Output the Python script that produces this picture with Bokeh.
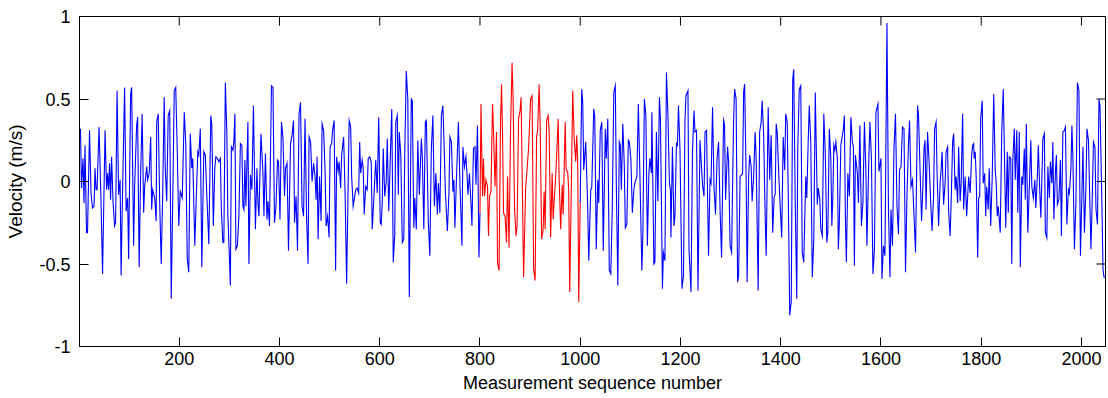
import math
from bokeh.plotting import figure
from bokeh.models import FixedTicker, Range1d, Label, ColumnDataSource
from bokeh.embed import file_html
from bokeh.resources import INLINE

# ---------------- data ----------------
seq = [
    3, 5, 8, 10, 12, 15, 17, 21, 24, 27, 30, 32, 34, 36, 40, 44, 47, 52, 55, 57,
    59, 61, 63, 65, 68, 71, 73, 76, 79, 82, 84, 87, 91, 94, 97, 99, 103, 105, 109, 111,
    115, 117, 120, 123, 126, 129, 131, 135, 137, 140, 143, 145, 147, 151, 154, 155, 158, 161, 164, 167,
    170, 172, 175, 178, 181, 184, 188, 190, 193, 196, 199, 202, 206, 210, 213, 216, 219, 222, 225, 227,
    231, 234, 237, 239, 242, 245, 249, 252, 255, 259, 263, 265, 268, 271, 273, 276, 279, 282, 284, 287,
    289, 292, 295, 297,
    302, 304, 307, 309, 311, 313, 316, 319, 322, 325, 327, 329, 331, 333, 337, 339, 342, 345, 348, 352,
    355, 357, 359, 363, 367, 369, 372, 375, 377, 380, 384, 387, 390, 393, 396, 398, 401, 404, 407, 410,
    412, 415, 418, 422, 425, 428, 430, 433, 436, 439, 442, 445, 448, 451, 454, 457, 459, 462, 465, 468,
    471, 473, 475, 477, 480, 483, 485, 488, 491, 493, 496, 499, 501, 504, 506, 509, 512, 514, 517, 519,
    522, 524, 528, 531, 534, 536, 539, 542, 544, 547, 550, 552, 555, 558, 560, 562, 565, 567, 569, 572,
    575, 577, 580, 583, 585, 588, 592,
    595, 598, 601, 603, 605, 607, 610, 613, 615, 618, 620, 624, 627, 630, 632, 635, 637, 639, 642, 645,
    648, 650, 653, 656, 659, 663, 665, 668, 670, 673, 676, 679, 683, 685, 688, 691, 693, 697, 700, 703,
    706, 709, 712, 715, 717, 720, 723, 726, 729, 731, 735, 738, 740, 743, 746, 748, 750, 753, 757, 760,
    764, 766, 769, 772, 774, 776, 779, 782, 784, 787, 790, 792, 795, 798, 800, 802, 805, 807, 809, 812,
    815, 817, 819, 822, 825, 827, 830, 833, 835, 838, 841, 843, 845, 847, 850, 853, 855, 858, 861, 864,
    866, 869, 872, 874, 877, 880, 882, 885, 887,
    891, 895, 897, 901, 904, 907, 910, 913, 915, 918, 920, 923, 926, 928, 930, 933, 936, 938, 941, 944,
    946, 949, 952, 956, 958, 961, 964, 966, 970, 972, 975, 977, 979, 982, 985, 988, 991, 993, 995, 997,
    1000, 1003, 1005, 1007, 1011, 1015, 1017, 1021, 1023, 1027, 1029, 1032, 1035, 1037, 1040, 1043, 1046, 1050, 1052, 1055,
    1058, 1061, 1064, 1067, 1070, 1072, 1075, 1078, 1080, 1082, 1085, 1088, 1090, 1093, 1096, 1098, 1101, 1104, 1107, 1109,
    1113, 1116, 1119, 1123, 1125, 1128, 1131, 1134, 1137, 1139, 1142, 1143, 1147, 1149, 1152, 1155, 1158, 1160, 1164, 1166,
    1169, 1172, 1175, 1178, 1180, 1181,
    1184, 1187, 1189, 1192, 1194, 1196, 1199, 1203, 1206, 1209, 1211, 1215, 1217, 1221, 1224, 1227, 1229, 1232, 1235, 1239,
    1241, 1244, 1247, 1249, 1252, 1256, 1259, 1261, 1264, 1267, 1270, 1273, 1276, 1279, 1282, 1286, 1288, 1290, 1294, 1296,
    1299, 1302, 1306, 1308, 1311, 1314, 1316, 1319, 1322, 1324, 1326, 1328, 1331, 1333, 1336, 1338, 1341, 1343, 1346, 1349,
    1351, 1355, 1358, 1361, 1363, 1366, 1369, 1371, 1375, 1378, 1381, 1384, 1387, 1389, 1391, 1393, 1396, 1398, 1402, 1405,
    1408, 1410, 1413, 1416, 1418, 1421, 1424, 1426, 1429, 1432, 1434, 1437, 1440, 1443, 1446, 1450, 1452, 1455, 1457, 1460,
    1463, 1466, 1469, 1473, 1475,
    1478, 1480, 1483, 1486, 1489, 1492, 1494, 1497, 1500, 1502, 1504, 1506, 1508, 1510, 1513, 1515, 1517, 1520, 1523, 1525,
    1527, 1529, 1531, 1534, 1537, 1540, 1543, 1545, 1547, 1549, 1553, 1555, 1558, 1561, 1564, 1567, 1570, 1572, 1576, 1578,
    1581, 1584, 1587, 1590, 1594, 1596, 1600, 1602, 1605, 1608, 1612, 1615, 1618, 1620, 1623, 1626, 1629, 1632, 1635, 1637,
    1640, 1643, 1646, 1649, 1652, 1655, 1657, 1660, 1663, 1666, 1669, 1673, 1675, 1678, 1681, 1683, 1686, 1688, 1690, 1693,
    1696, 1699, 1702, 1705, 1707, 1710, 1712, 1715, 1718, 1720, 1722, 1725, 1728, 1730, 1733, 1735, 1738, 1740, 1743, 1745,
    1748, 1750, 1753, 1755, 1758, 1760, 1763, 1765, 1768, 1771,
    1775, 1778, 1781, 1783, 1785, 1786, 1788, 1790, 1793, 1795, 1797, 1799, 1802, 1804, 1807, 1809, 1811, 1814, 1816, 1819,
    1822, 1825, 1828, 1830, 1832, 1834, 1837, 1838, 1841, 1844, 1846, 1849, 1852, 1854, 1856, 1859, 1861, 1863, 1866, 1868,
    1871, 1873, 1876, 1878, 1881, 1883, 1886, 1888, 1890, 1893, 1895, 1899, 1901, 1904, 1907, 1909, 1912, 1914, 1917, 1919,
    1921, 1923, 1926, 1928, 1931, 1933, 1936, 1938, 1941, 1943, 1945, 1948, 1950, 1952, 1955, 1958, 1960, 1963, 1966, 1968,
    1971, 1974, 1976, 1979, 1981, 1983, 1986, 1989, 1992, 1995, 1998, 2001, 2003, 2006, 2009, 2011, 2014, 2017, 2019, 2021,
    2024, 2027, 2029, 2032, 2035, 2037, 2041, 2043, 2045, 2048,
]

velocity = [
    0.32, -0.04, 0.14, -0.13, 0.22, -0.31, -0.31, 0.31, -0.07, -0.16, -0.15, 0.08, -0.05, -0.05, 0.33, -0.13, -0.56, 0.31, -0.05, 0.05,
    -0.05, 0.11, -0.11, 0.15, -0.13, -0.27, -0.25, 0.55, -0.08, 0.01, -0.57, -0.05, 0.57, -0.18, -0.10, -0.47, 0.53, 0.57, -0.39, -0.03,
    0.34, 0.39, -0.52, 0.05, 0.41, -0.19, -0.03, 0.09, 0.01, 0.05, 0.27, -0.17, -0.05, -0.10, -0.24, 0.36, 0.41, -0.13, -0.50, -0.07,
    0.51, 0.09, -0.12, 0.40, 0.43, -0.71, 0.09, 0.55, 0.57, 0.19, -0.27, -0.06, -0.10, 0.42, 0.23, -0.47, -0.55, 0.29, 0.08, 0.14,
    -0.39, -0.10, 0.18, 0.16, 0.32, -0.52, 0.18, 0.16, -0.08, -0.38, 0.40, 0.34, -0.27, 0.08, 0.15, 0.14, 0.12, 0.14, -0.17, -0.37,
    -0.37, 0.60, 0.29, -0.20,
    -0.63, 0.21, 0.19, 0.24, 0.41, -0.41, -0.39, -0.21, 0.23, 0.22, -0.15, -0.17, 0.13, -0.15, 0.36, -0.50, 0.04, -0.05, 0.46, -0.29,
    0.08, -0.13, -0.21, 0.29, 0.05, -0.21, 0.17, -0.23, -0.12, -0.27, 0.58, 0.57, -0.25, -0.15, 0.13, 0.12, -0.23, 0.36, 0.26, -0.09,
    0.08, 0.11, -0.42, 0.23, 0.28, 0.37, -0.25, -0.09, -0.42, 0.41, 0.48, -0.15, -0.21, 0.38, -0.21, -0.50, 0.27, 0.24, 0.00, 0.11,
    0.03, -0.11, 0.15, -0.35, 0.03, -0.24, 0.35, 0.31, 0.06, -0.27, -0.21, -0.34, 0.21, 0.23, 0.31, 0.37, -0.54, 0.15, 0.06, 0.12,
    -0.04, 0.16, 0.27, -0.09, -0.62, -0.21, 0.37, 0.33, 0.03, -0.15, -0.09, -0.05, -0.04, -0.07, 0.24, 0.05, 0.13, 0.08, -0.20, -0.03,
    -0.05, 0.14, 0.15, 0.12, -0.29, -0.12, 0.13,
    -0.07, 0.39, -0.25, -0.26, -0.13, 0.20, -0.09, 0.00, 0.26, -0.18, 0.03, 0.44, -0.49, -0.32, 0.36, 0.40, -0.08, 0.30, 0.16, -0.37,
    -0.35, 0.18, 0.67, 0.50, -0.70, 0.50, 0.49, -0.28, -0.10, -0.29, 0.25, -0.08, 0.26, 0.15, -0.29, 0.36, 0.37, -0.25, -0.45, 0.20,
    0.40, -0.15, 0.05, -0.20, -0.01, -0.19, 0.40, 0.46, 0.16, -0.07, -0.30, -0.08, 0.27, 0.24, -0.06, 0.01, -0.28, 0.01, 0.36, -0.01,
    -0.39, 0.21, 0.09, 0.15, 0.05, -0.08, 0.05, -0.13, -0.27, 0.20, 0.21, -0.02, 0.34, -0.46, -0.19, 0.47, -0.09, 0.14, -0.09, 0.01,
    -0.03, -0.33, -0.09, -0.06, 0.47, 0.31, -0.03, 0.30, -0.49, -0.54, 0.36, 0.59, 0.29, -0.19, -0.21, -0.37, 0.03, -0.40, 0.31, 0.72,
    0.51, -0.17, -0.33, -0.27, 0.38, 0.43, 0.51, -0.13, -0.58,
    -0.05, 0.12, 0.20, 0.50, 0.52, -0.53, -0.60, 0.27, 0.31, 0.59, 0.36, -0.35, -0.29, -0.06, -0.29, 0.37, 0.40, 0.30, -0.34, 0.05,
    -0.23, -0.07, 0.09, 0.38, 0.01, -0.29, -0.02, -0.20, 0.36, 0.07, 0.06, -0.05, -0.67, -0.09, 0.55, 0.26, 0.12, 0.28, 0.12, -0.73,
    -0.13, 0.56, 0.48, 0.07, 0.24, -0.16, -0.48, -0.05, -0.04, 0.44, 0.39, -0.41, 0.01, -0.13, 0.31, 0.36, -0.42, 0.32, 0.14, 0.38,
    -0.54, -0.56, -0.16, 0.54, 0.58, -0.01, -0.63, 0.24, 0.22, -0.05, 0.35, 0.09, -0.28, -0.26, 0.25, 0.24, 0.14, -0.19, -0.05, -0.01,
    0.03, 0.47, 0.05, -0.54, -0.32, 0.50, 0.40, -0.39, 0.05, 0.14, 0.05, 0.42, -0.50, -0.49, 0.30, -0.12, 0.51, 0.38, -0.65, -0.43,
    -0.48, 0.66, 0.40, -0.01, -0.05, -0.34,
    0.21, -0.27, -0.21, 0.23, 0.22, 0.46, 0.20, -0.65, -0.57, 0.37, 0.52, 0.55, -0.41, -0.67, 0.18, 0.43, 0.30, 0.31, -0.66, 0.25,
    0.14, -0.02, -0.09, 0.30, 0.31, -0.45, 0.01, -0.01, 0.45, -0.04, -0.20, 0.14, 0.24, -0.17, -0.46, 0.37, 0.34, -0.11, 0.21, 0.12,
    -0.39, -0.43, 0.37, 0.56, 0.50, -0.61, -0.57, 0.03, 0.04, 0.05, 0.54, 0.59, 0.03, -0.61, 0.03, 0.16, 0.09, -0.12, 0.03, 0.30,
    0.14, -0.66, 0.30, 0.36, 0.49, 0.28, -0.21, -0.45, 0.45, 0.01, 0.28, -0.31, -0.09, -0.08, 0.35, 0.30, 0.05, -0.09, -0.34, 0.27,
    0.07, 0.41, 0.36, -0.29, -0.81, -0.73, 0.62, 0.68, -0.13, -0.71, 0.19, 0.56, 0.58, -0.43, -0.49, 0.03, -0.10, 0.26, 0.46, 0.24,
    -0.58, -0.35, 0.54, -0.14, -0.04,
    -0.11, -0.29, -0.33, 0.41, 0.16, -0.37, -0.31, 0.32, 0.14, -0.27, -0.09, 0.22, 0.19, 0.24, 0.14, -0.41, -0.25, 0.22, 0.28, 0.32,
    0.40, -0.21, -0.49, 0.05, -0.09, 0.39, 0.24, 0.21, -0.51, 0.16, 0.05, -0.13, 0.34, -0.27, -0.13, 0.36, 0.06, -0.39, 0.16, 0.36,
    0.14, -0.56, -0.41, 0.42, 0.47, 0.06, 0.14, -0.59, -0.39, -0.45, 0.96, -0.17, -0.58, -0.17, -0.39, 0.20, 0.41, -0.15, -0.32, 0.07,
    0.09, 0.33, 0.32, -0.55, -0.07, 0.23, 0.37, -0.03, 0.01, -0.21, -0.43, 0.46, 0.40, 0.07, -0.24, -0.09, 0.20, 0.25, -0.17, 0.30,
    0.12, -0.11, -0.30, -0.09, 0.32, 0.36, 0.05, -0.27, -0.01, 0.07, 0.18, -0.14, -0.01, 0.18, 0.21, -0.18, -0.33, -0.13, 0.24, 0.29,
    -0.05, 0.03, -0.13, 0.21, -0.12, -0.01, 0.41, -0.17, 0.03, -0.21,
    0.03, -0.07, 0.16, 0.22, 0.23, 0.14, 0.18, 0.03, -0.46, -0.10, -0.09, 0.38, 0.49, -0.01, 0.05, -0.21, -0.03, -0.17, 0.08, -0.27,
    0.03, 0.53, 0.07, -0.01, -0.21, -0.15, -0.27, -0.31, 0.30, 0.56, 0.22, -0.28, 0.18, -0.19, 0.15, 0.14, -0.50, 0.12, 0.32, 0.01,
    0.31, -0.19, 0.30, -0.52, 0.03, -0.02, 0.20, -0.11, 0.35, -0.31, -0.13, 0.25, -0.03, -0.10, 0.01, -0.16, 0.03, 0.22, -0.07, -0.22,
    0.01, 0.26, 0.29, -0.31, -0.34, 0.09, -0.10, 0.12, -0.01, 0.24, -0.23, 0.05, 0.16, -0.14, -0.11, 0.13, -0.33, 0.30, 0.31, 0.33,
    -0.26, -0.05, -0.07, 0.08, 0.34, 0.14, -0.41, -0.13, 0.60, 0.55, -0.45, -0.07, 0.21, -0.31, -0.03, 0.32, 0.25, -0.16, -0.41, -0.17,
    0.24, 0.21, -0.17, -0.26, 0.50, 0.46, -0.17, -0.53, -0.58, -0.58,
]

highlight_start = 800   # red part of the record
highlight_end = 1000

x_min, x_max = 1, 2048
y_min, y_max = -1, 1
x_ticks = [200, 400, 600, 800, 1000, 1200, 1400, 1600, 1800, 2000]
y_ticks = [-1, -0.5, 0, 0.5, 1]
y_tick_labels = ["-1", "-0.5", "0", "0.5", "1"]

title_text = "(a)"
x_label = "Measurement sequence number"
y_label = "Velocity (m/s)"

# ---------------- split into blue / red / blue ----------------
pts = list(zip(seq, velocity))
before = [(s, v) for s, v in pts if s <= highlight_start]
middle = [(s, v) for s, v in pts if highlight_start <= s <= highlight_end]
after = [(s, v) for s, v in pts if s >= highlight_end]

def src(part):
    return ColumnDataSource(dict(x=[s for s, _ in part], y=[v for _, v in part]))

FONT = "Liberation Sans"

p = figure(width=1108, height=398, output_backend="svg", toolbar_location=None,
           x_range=Range1d(x_min, x_max), y_range=Range1d(y_min, y_max),
           min_border_left=79, min_border_right=3, min_border_top=16, min_border_bottom=52,
           background_fill_color="white", border_fill_color="white")
p.grid.visible = False
p.outline_line_color = "black"
p.outline_line_width = 1

for part, color in ((before, "#0000ff"), (middle, "#ff0000"), (after, "#0000ff")):
    p.line("x", "y", source=src(part), line_color=color, line_width=1.1, line_join="miter")

# MATLAB-style inward ticks on the top and right edges of the box
# (a vertical dash centred on the edge; the half outside the frame is clipped)
p.scatter(x=x_ticks, y=[y_max] * len(x_ticks), marker="dash", angle=math.pi / 2,
          size=18, line_color="black", line_width=1)
p.scatter(x=[x_max] * len(y_ticks), y=y_ticks, marker="dash",
          size=18, line_color="black", line_width=1)

def style_axis(ax):
    ax.axis_line_color = "black"
    ax.axis_line_width = 1
    ax.major_tick_in = 9
    ax.major_tick_out = 0
    ax.minor_tick_line_color = None
    ax.major_tick_line_color = "black"
    ax.major_label_text_font = FONT
    ax.major_label_text_color = "black"
    ax.axis_label_text_font = FONT
    ax.axis_label_text_font_style = "normal"
    ax.axis_label_text_color = "black"

xa = p.xaxis[0]
xa.ticker = FixedTicker(ticks=x_ticks)
style_axis(xa)
xa.major_label_text_font_size = "18px"
xa.major_label_standoff = 5
xa.axis_label = x_label
xa.axis_label_text_font_size = "18px"
xa.axis_label_standoff = 5

ya = p.yaxis[0]
ya.ticker = FixedTicker(ticks=y_ticks)
ya.major_label_overrides = {t: lab for t, lab in zip(y_ticks, y_tick_labels)}
style_axis(ya)
ya.major_label_text_font_size = "18px"
ya.major_label_standoff = 9
ya.axis_label = y_label
ya.axis_label_text_font_size = "19px"
ya.axis_label_standoff = 10

p.add_layout(Label(x=(x_min + x_max) / 2, y=y_max, x_units="data", y_units="data", text=title_text,
                   text_align="center", text_baseline="alphabetic", y_offset=16,
                   text_font=FONT, text_font_size="18px", text_color="black"))

open("out.html", "w").write(file_html(p, INLINE))
